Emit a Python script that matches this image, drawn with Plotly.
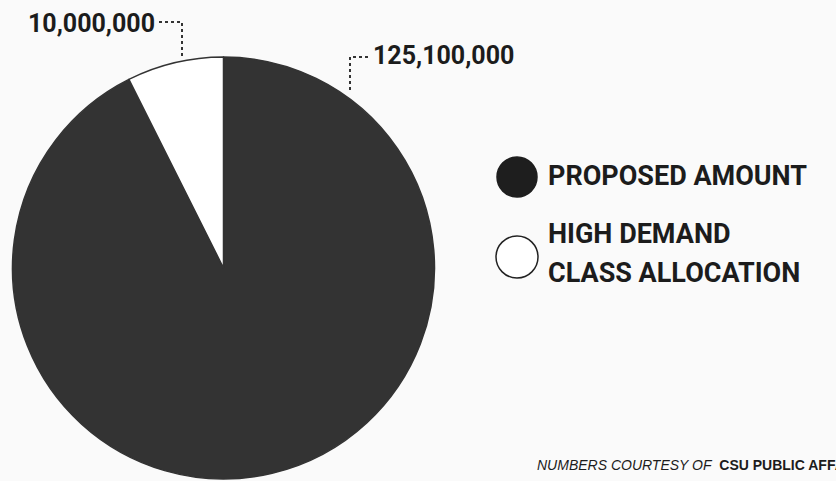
import plotly.graph_objects as go

labels = ["PROPOSED AMOUNT", "HIGH DEMAND CLASS ALLOCATION"]
values = [125100000, 10000000]
colors = ["#333333", "#ffffff"]
value_labels = ["125,100,000", "10,000,000"]
legend_lines = [["PROPOSED AMOUNT"], ["HIGH DEMAND", "CLASS ALLOCATION"]]
footnote_lead = "NUMBERS COURTESY OF"
footnote_source = "CSU PUBLIC AFFAIRS"

W, H = 836, 481
def px(x): return x / W
def py(y): return 1 - y / H

FONT = "Roboto, Liberation Sans, sans-serif"
TXT = "#1c1c1c"

fig = go.Figure(go.Pie(
    labels=labels, values=values, sort=False, direction="clockwise", rotation=0,
    marker=dict(colors=colors, line=dict(color="#333333", width=1.5)),
    textinfo="none", hoverinfo="label+value", showlegend=False,
    domain=dict(x=[px(12), px(435)], y=[py(479), py(57)]),
))

shapes = []
# leader lines
shapes.append(dict(type="path", xref="paper", yref="paper",
                   path=f"M {px(159)},{py(22)} L {px(182)},{py(22)} L {px(182)},{py(56)}",
                   line=dict(color="#333333", width=2, dash="dot")))
shapes.append(dict(type="path", xref="paper", yref="paper",
                   path=f"M {px(350)},{py(90)} L {px(350)},{py(57)} L {px(370)},{py(57)}",
                   line=dict(color="#333333", width=2, dash="dot")))
# legend circles
shapes.append(dict(type="circle", xref="paper", yref="paper",
                   x0=px(497), x1=px(537), y0=py(197), y1=py(157),
                   fillcolor="#1e1e1e", line=dict(color="#1e1e1e", width=1.5)))
shapes.append(dict(type="circle", xref="paper", yref="paper",
                   x0=px(496), x1=px(538), y0=py(278), y1=py(236),
                   fillcolor="#ffffff", line=dict(color="#222222", width=1.5)))

ann = []
def add(text, x, y, size, xanchor="left", family=FONT):
    ann.append(dict(text=text, x=px(x), y=py(y), xanchor=xanchor, yanchor="middle",
                    showarrow=False, xref="paper", yref="paper", align="left",
                    font=dict(family=family, size=size, color=TXT)))

add(f"<b>{value_labels[1]}</b>", 157, 23, 25, xanchor="right")
add(f"<b>{value_labels[0]}</b>", 371, 55, 25)
add(f"<b>{legend_lines[0][0]}</b>", 546, 176, 27)
add(f"<b>{legend_lines[1][0]}</b>", 546, 234, 27)
add(f"<b>{legend_lines[1][1]}</b>", 546, 273, 27)
add(f"<i>{footnote_lead}</i>  <b>{footnote_source}</b>", 535, 465, 14,
    family="Liberation Sans, Arial, sans-serif")

fig.update_layout(width=W, height=H, margin=dict(l=0, r=0, t=0, b=0),
                  paper_bgcolor="#fafafa", plot_bgcolor="#fafafa",
                  shapes=shapes, annotations=ann, showlegend=False)
fig.write_html("out.html")
